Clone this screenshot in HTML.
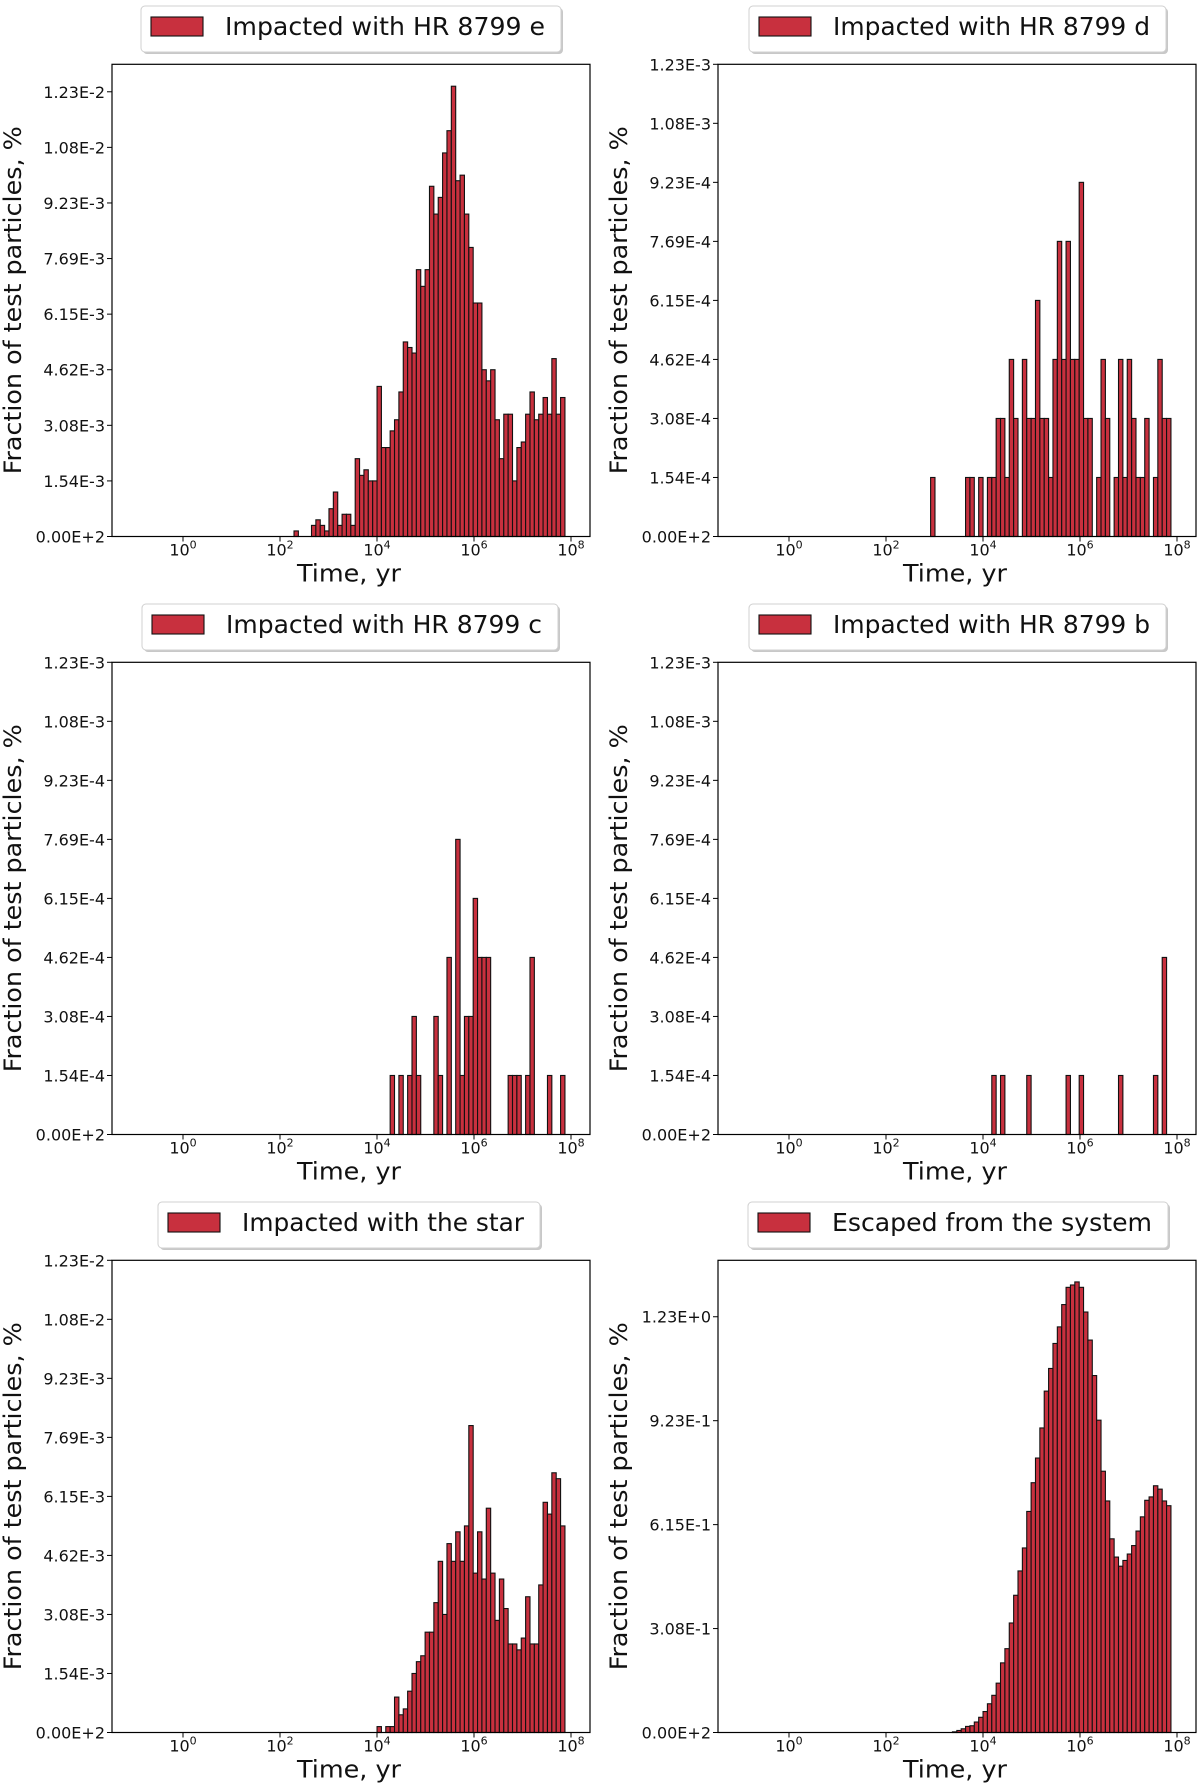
<!DOCTYPE html>
<html><head><meta charset="utf-8"><title>HR 8799 test particles histograms</title>
<style>
html,body{margin:0;padding:0;background:#fff;}
svg{display:block;font-family:"DejaVu Sans","Liberation Sans",sans-serif;}
</style></head>
<body>
<svg id="fig" width="1200" height="1791" viewBox="0 0 1200 1791" xmlns="http://www.w3.org/2000/svg"></svg>
<script>
// ---- shared histogram grid (log10 of time in years) ----
const GRID_START = 2.289;
const BIN_W = 0.0901;
const PCT_PER_PARTICLE = 1.5375e-4;

// ---- panel data: first bin index on the grid + counts per bin ----
const eFirst = 0;
const eCounts = [1,0,0,0,2,3,2,1,5,8,2,4,4,2,14,11,12,10,10,27,16,16,19,21,26,35,34,33,48,45,48,63,58,61,69,73,81,64,65,58,52,42,42,30,28,30,21,14,22,22,10,16,17,22,26,21,22,25,22,32,22,25];
const dFirst = 7;
const dCounts = [1,0,0,0,0,0,0,0,1,1,0,1,0,1,1,2,2,1,3,2,0,3,2,2,4,2,2,1,3,5,3,5,3,3,6,2,2,0,1,3,2,0,1,3,1,3,2,1,1,2,0,1,3,2,2];
const cFirst = 22;
const cCounts = [1,0,1,0,1,2,1,0,0,0,2,1,0,3,0,5,1,2,2,4,3,3,3,0,0,0,0,1,1,1,0,1,3,0,0,0,1,0,0,1];
const bFirst = 21;
const bCounts = [1,0,1,0,0,0,0,0,1,0,0,0,0,0,0,0,0,1,0,0,1,0,0,0,0,0,0,0,0,1,0,0,0,0,0,0,0,1,0,3];
const starFirst = 19;
const starCounts = [1,0,1,1,6,3,4,7,10,12,13,17,17,22,29,20,32,29,34,29,35,52,27,34,26,38,27,19,26,21,15,15,14,16,23,15,15,25,39,37,44,43,35];
const escFirst = 12;
const escValues = [0.002,0.006,0.011,0.018,0.020,0.031,0.045,0.062,0.085,0.110,0.146,0.206,0.248,0.324,0.406,0.478,0.546,0.654,0.739,0.812,0.901,1.010,1.077,1.151,1.200,1.266,1.317,1.324,1.333,1.317,1.244,1.161,1.056,0.924,0.773,0.685,0.573,0.519,0.492,0.509,0.528,0.553,0.596,0.638,0.687,0.697,0.730,0.720,0.685,0.671];

// ---- axis ticks ----
const xTickExps = [0,2,4,6,8];
const smallTickValues = [0,1.5375e-3,3.075e-3,4.6125e-3,6.15e-3,7.6875e-3,9.225e-3,1.07625e-2,1.23e-2];
const smallTickLabels = ["0.00E+2","1.54E-3","3.08E-3","4.62E-3","6.15E-3","7.69E-3","9.23E-3","1.08E-2","1.23E-2"];
const tinyTickValues = [0,1.5375e-4,3.075e-4,4.6125e-4,6.15e-4,7.6875e-4,9.225e-4,1.07625e-3,1.23e-3];
const tinyTickLabels = ["0.00E+2","1.54E-4","3.08E-4","4.62E-4","6.15E-4","7.69E-4","9.23E-4","1.08E-3","1.23E-3"];
const escTickValues = [0,0.3075,0.615,0.9225,1.23];
const escTickLabels = ["0.00E+2","3.08E-1","6.15E-1","9.23E-1","1.23E+0"];

const NS = "http://www.w3.org/2000/svg";
const svg = document.getElementById('fig');
function mk(tag, attrs, parent){
  const el = document.createElementNS(NS, tag);
  for (const k in attrs) el.setAttribute(k, attrs[k]);
  (parent || svg).appendChild(el);
  return el;
}
const toVals = (arr) => arr.map(c => c * PCT_PER_PARTICLE);

const panels = [
  {key:'e', col:0, row:0, legend:'Impacted with HR 8799 e', lx:141, lw:420, first:eFirst, vals:toVals(eCounts), ymax:0.01306, tv:smallTickValues, tl:smallTickLabels},
  {key:'d', col:1, row:0, legend:'Impacted with HR 8799 d', lx:749, lw:417, first:dFirst, vals:toVals(dCounts), ymax:0.00123, tv:tinyTickValues, tl:tinyTickLabels},
  {key:'c', col:0, row:1, legend:'Impacted with HR 8799 c', lx:142, lw:416, first:cFirst, vals:toVals(cCounts), ymax:0.00123, tv:tinyTickValues, tl:tinyTickLabels},
  {key:'b', col:1, row:1, legend:'Impacted with HR 8799 b', lx:749, lw:417, first:bFirst, vals:toVals(bCounts), ymax:0.00123, tv:tinyTickValues, tl:tinyTickLabels},
  {key:'star', col:0, row:2, legend:'Impacted with the star', lx:158, lw:382, first:starFirst, vals:toVals(starCounts), ymax:0.0123, tv:smallTickValues, tl:smallTickLabels},
  {key:'escaped', col:1, row:2, legend:'Escaped from the system', lx:748, lw:420, first:escFirst, vals:escValues, ymax:1.397, tv:escTickValues, tl:escTickLabels}
];

const AX_W = 478, AX_H = 472.2, PX_PER_DEC = 48.5, X0_OFF = 71;

panels.forEach(p => {
  const x0 = p.col === 0 ? 112 : 718;
  const y0 = 64.3 + p.row * 598;
  const yb = y0 + AX_H;
  const xs = L => x0 + X0_OFF + PX_PER_DEC * L;
  const ys = v => yb - v / p.ymax * AX_H;

  const g = mk('g', {});
  
  

  const bars = mk('g', {}, g);
  
  
  p.vals.forEach((v, i) => {
    if (v <= 0) return;
    const L0 = GRID_START + (p.first + i) * BIN_W;
    const xa = xs(L0), xb = xs(L0 + BIN_W);
    const r = mk('rect', {x:xa, y:ys(v), width:xb - xa, height:yb - ys(v), fill:'#c8303e', stroke:'#111', 'stroke-width':1.1}, bars);
    
    
  });

  const fr = mk('rect', {x:x0, y:y0, width:AX_W, height:AX_H, fill:'none', stroke:'#000', 'stroke-width':1.2}, g);
  
  

  p.tv.forEach((v, k) => {
    const y = ys(v);
    mk('line', {x1:x0 - 5, x2:x0, y1:y, y2:y, stroke:'#000', 'stroke-width':1}, g);
    const t = mk('text', {x:x0 - 7, y:y + 6, 'text-anchor':'end', 'font-size':16, fill:'#111'}, g);
    
    
    t.textContent = p.tl[k];
  });

  xTickExps.forEach(e => {
    const x = xs(e);
    mk('line', {x1:x, x2:x, y1:yb, y2:yb + 5, stroke:'#000', 'stroke-width':1}, g);
    const t = mk('text', {x:x, y:yb + 19, 'text-anchor':'middle', 'font-size':16, fill:'#111'}, g);
    
    
    t.textContent = '10';
    const s = mk('tspan', {dy:-7, 'font-size':11}, t);
    s.textContent = String(e);
  });

  const xl = mk('text', {x:x0 + AX_W / 2 - 2, y:yb + 45, 'text-anchor':'middle', 'font-size':24, fill:'#111', textLength:104, lengthAdjust:'spacingAndGlyphs'}, g);
  
  
  xl.textContent = 'Time, yr';
  const yx = x0 - 91, yy = y0 + 236;
  const yl = mk('text', {x:yx, y:yy, 'text-anchor':'middle', 'font-size':24, fill:'#111', transform:'rotate(-90 ' + yx + ' ' + yy + ')', textLength:348, lengthAdjust:'spacingAndGlyphs'}, g);
  
  
  yl.textContent = 'Fraction of test particles, %';

  const ly = 6 + p.row * 598;
  const lg = mk('g', {}, g);
  
  
  mk('rect', {x:p.lx + 2, y:ly + 2, width:p.lw, height:46, rx:4, fill:'#c8c8c8'}, lg);
  mk('rect', {x:p.lx, y:ly, width:p.lw, height:46, rx:4, fill:'#fff', stroke:'#d0d0d0', 'stroke-width':1}, lg);
  const pt = mk('rect', {x:p.lx + 10, y:ly + 11, width:52, height:19, fill:'#c8303e', stroke:'#111', 'stroke-width':1.1}, lg);
  
  
  const lt = mk('text', {x:p.lx + 84, y:ly + 29, 'font-size':25, fill:'#111', textLength:p.lw - 100, lengthAdjust:'spacingAndGlyphs'}, lg);
  
  
  lt.textContent = p.legend;
});
</script>
</body></html>
